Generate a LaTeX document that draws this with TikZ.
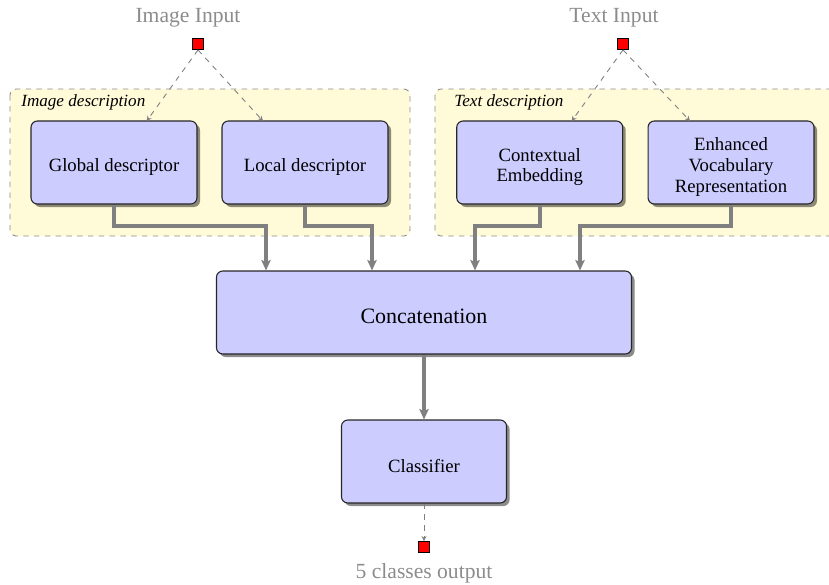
\documentclass[tikz,border=0pt]{standalone}
\usepackage{fontspec}
\setmainfont{Liberation Serif}
\usetikzlibrary{shadows,arrows.meta,calc}
\definecolor{groupfill}{RGB}{255,250,215}
\tikzset{
  blockbox/.style={draw=black!85, line width=0.6pt, fill=blue!20, rounded corners=3.5pt,
    inner sep=0pt, minimum width=92.2pt, minimum height=46.1pt,
    drop shadow={shadow xshift=1.7pt, shadow yshift=-1.7pt, fill=black, opacity=0.45}},
  blocktext/.style={inner sep=0pt, align=center, font=\fontsize{10.4}{11.5}\selectfont, yshift=-2.5pt},
  group/.style={draw=black!45, dashed, line width=0.5pt, fill=groupfill, rounded corners=3.5pt},
  port/.style={draw=black, fill=red, line width=0.5pt, minimum size=6.1pt, inner sep=0pt},
  iolabel/.style={text=black!45, font=\fontsize{12}{14}\selectfont, inner sep=0pt},
  grouplabel/.style={font=\fontsize{9.5}{11}\selectfont\itshape, anchor=west, inner sep=0pt},
  conn/.style={draw=black!50, line width=2.2pt, -{Stealth[length=5.8pt, width=5.2pt, inset=1.1pt]}},
  dconn/.style={draw=black!50, dashed, line width=0.5pt, -{Stealth[length=2.8pt, width=2.8pt]}}
}
\begin{document}
\begin{tikzpicture}[x=0.5556pt, y=-0.5556pt]
\useasboundingbox (0,0) rectangle (829,584);
\clip (0,0) rectangle (829,584);
% groups
\draw[group] (10,89) rectangle (410,236);
\draw[group] (435,89) rectangle (850,236);
\node[grouplabel] (ilab) at (21,102) {Image description};
\node[grouplabel] (tlab) at (454,102) {Text description};
% inputs
\node[iolabel] (iin) at (188,18) {Image Input};
\node[port] (ip) at (198,44) {};
\node[iolabel] (tin) at (614,18) {Text Input};
\node[port] (tp) at (623,44) {};
% blocks
\node[blockbox] (g) at (114,162.5) {};
\node[blocktext] (gt) at (g.center) {Global descriptor};
\node[blockbox] (l) at (305,162.5) {};
\node[blocktext] (lt) at (l.center) {Local descriptor};
\node[blockbox] (ce) at (539.7,162.5) {};
\node[blocktext] (cet) at (ce.center) {Contextual\\Embedding};
\node[blockbox] (ev) at (731,162.5) {};
\node[blocktext] (evt) at (ev.center) {Enhanced\\Vocabulary\\Representation};
\node[blockbox, minimum width=230.6pt] (cat) at (424,312.5) {};
\node[blocktext, font=\fontsize{12.2}{14}\selectfont, yshift=0.4pt] (catt) at (cat.center) {Concatenation};
\node[blockbox, minimum width=91.7pt] (cls) at (424,461.5) {};
\node[blocktext] (clst) at (cls.center) {Classifier};
% output
\node[port] (op) at (424,547) {};
\node[iolabel, anchor=north] (out) at (424,563) {5 classes output};
% dashed input arrows
\coordinate (gtop) at (146.7,121);
\coordinate (ltop) at (263,121);
\coordinate (cetop) at (571.7,121);
\coordinate (evtop) at (690,121);
\draw[dconn] (ip.south) -- (gtop);
\draw[dconn] (ip.south) -- (ltop);
\draw[dconn] (tp.south) -- (cetop);
\draw[dconn] (tp.south) -- (evtop);
% thick connectors
\coordinate (x1) at (266,226);
\coordinate (x2) at (372,226);
\coordinate (x3) at (475,226);
\coordinate (x4) at (580,226);
\draw[conn] (g.south) |- (x1) -- (x1 |- cat.north);
\draw[conn] (l.south) |- (x2) -- (x2 |- cat.north);
\draw[conn] (ce.south) |- (x3) -- (x3 |- cat.north);
\draw[conn] (ev.south) |- (x4) -- (x4 |- cat.north);
\draw[conn] (cat.south) -- (cls.north);
\draw[dconn] (cls.south) -- (op.north);
\end{tikzpicture}
\end{document}
